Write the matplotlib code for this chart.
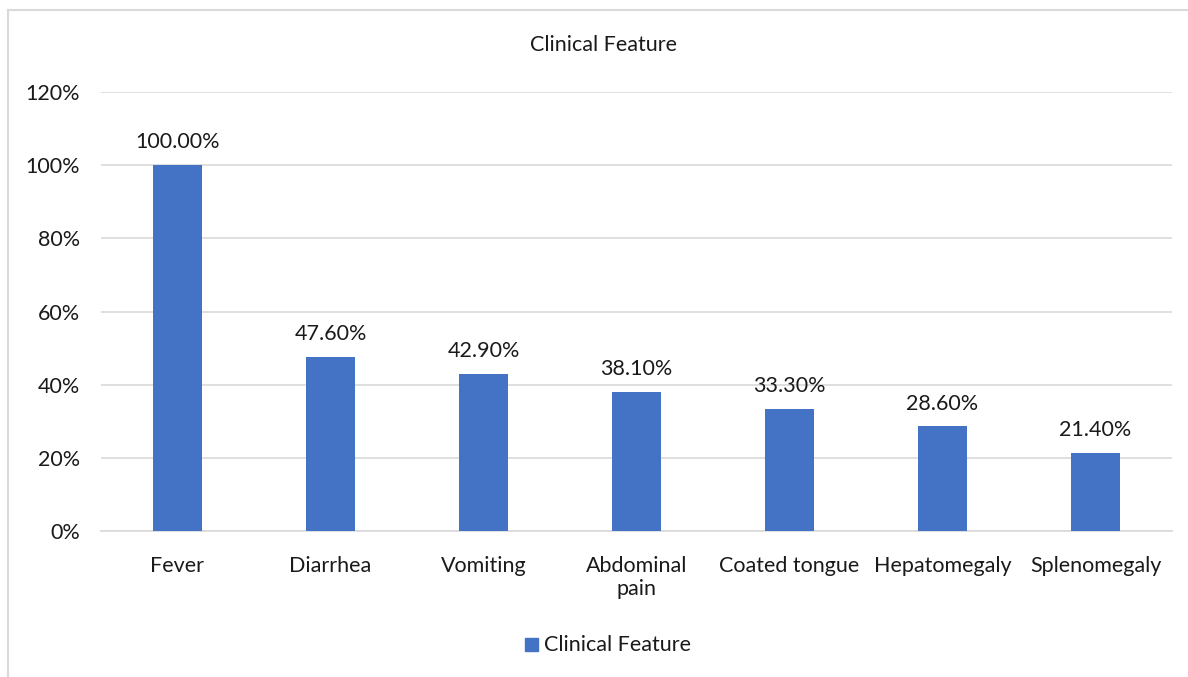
import matplotlib
matplotlib.use('Agg')
import matplotlib.pyplot as plt
from matplotlib.ticker import FuncFormatter, MultipleLocator
from matplotlib.patches import Rectangle
from matplotlib.lines import Line2D

# Clinical features and share of patients (%)
features = ['Fever', 'Diarrhea', 'Vomiting', 'Abdominal\npain', 'Coated tongue',
            'Hepatomegaly', 'Splenomegaly']
percent = [100.0, 47.6, 42.9, 38.1, 33.3, 28.6, 21.4]

bar_color = '#4472C4'
grid_color = '#D9D9D9'
text_color = '#1a1a1a'
fs = 15.5

plt.rcParams['font.family'] = ['Lato', 'DejaVu Sans']

fig = plt.figure(figsize=(11.88, 6.77), dpi=100)
W, H = 1188, 677

# outer chart frame (light grey)
fig.add_artist(Line2D([8 / W, 8 / W], [0, 1 - 10 / H], color=grid_color, lw=1.5,
                      transform=fig.transFigure))
fig.add_artist(Line2D([8 / W, 1], [1 - 10 / H, 1 - 10 / H], color=grid_color, lw=1.5,
                      transform=fig.transFigure))

ax = fig.add_axes([101 / W, 1 - 531 / H, (1172 - 101) / W, (531 - 92) / H])

x = range(len(features))
ax.bar(x, percent, width=0.314, color=bar_color, zorder=3)

for xi, v in zip(x, percent):
    ax.text(xi, v + 3.5, f'{v:.2f}%', ha='center', va='bottom', fontsize=fs,
            color=text_color)

ax.set_xlim(-0.5, len(features) - 0.5)
ax.set_ylim(0, 120)
ax.yaxis.set_major_locator(MultipleLocator(20))
ax.yaxis.set_major_formatter(FuncFormatter(lambda v, p: f'{v:.0f}%'))
ax.grid(axis='y', color=grid_color, lw=1.2, zorder=0)
ax.set_xticks(list(x))
ax.set_xticklabels(features, fontsize=fs, color=text_color, linespacing=1.2, va='top')
ax.tick_params(axis='y', labelsize=fs, labelcolor=text_color, length=0, pad=15)
ax.tick_params(axis='x', length=0, pad=18)
for s in ['top', 'right', 'left']:
    ax.spines[s].set_visible(False)
ax.spines['bottom'].set_color(grid_color)
ax.spines['bottom'].set_linewidth(1.2)

fig.text(604 / W, 1 - 45 / H, 'Clinical Feature', ha='center', va='center',
         fontsize=fs, color=text_color)

# legend
fig.add_artist(Rectangle((525 / W, 1 - 651 / H), 13 / W, 13 / H, color=bar_color,
                         transform=fig.transFigure))
fig.text(544 / W, 1 - 645 / H, 'Clinical Feature', ha='left', va='center',
         fontsize=fs, color=text_color)

fig.savefig('out.png', dpi=100)
